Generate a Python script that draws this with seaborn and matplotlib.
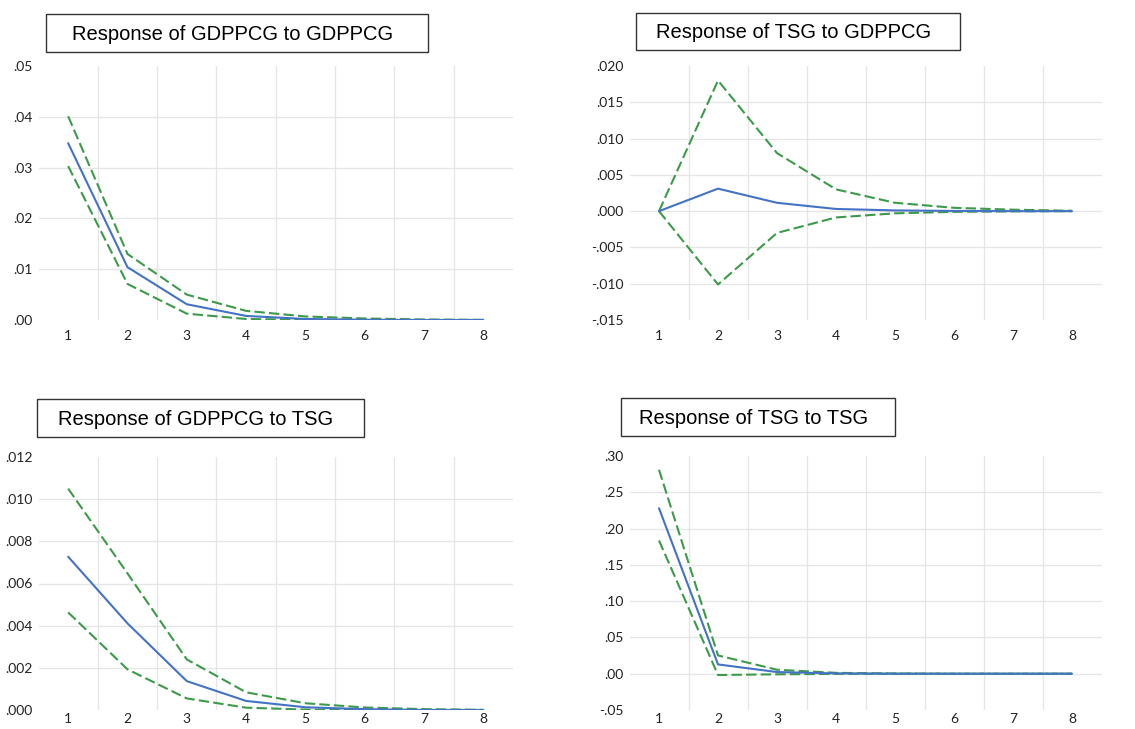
import matplotlib
matplotlib.use("Agg")
import matplotlib.pyplot as plt
from matplotlib.patches import Rectangle
import pandas as pd
import seaborn as sns

# periods
periods = [1, 2, 3, 4, 5, 6, 7, 8]

# Response of GDPPCG to GDPPCG
gg_resp = [0.0348, 0.0104, 0.0031, 0.0008, 0.0002, 0.00005, 0.0, 0.0]
gg_upper = [0.0401, 0.0130, 0.0050, 0.0018, 0.0007, 0.0003, 0.0001, 0.00003]
gg_lower = [0.0303, 0.0071, 0.00125, 0.0002, 0.00005, 0.0, 0.0, 0.0]

# Response of TSG to GDPPCG
tg_resp = [0.0, 0.0031, 0.00115, 0.0003, 0.0001, 0.00003, 0.0, 0.0]
tg_upper = [0.0, 0.0180, 0.0080, 0.0030, 0.00115, 0.00046, 0.0002, 0.00005]
tg_lower = [0.0, -0.0101, -0.0030, -0.00087, -0.0003, -0.0001, -0.00003, 0.0]

# Response of GDPPCG to TSG
gt_resp = [0.00727, 0.00411, 0.00137, 0.00043, 0.00013, 0.00004, 0.0, 0.0]
gt_upper = [0.0105, 0.00648, 0.0024, 0.00084, 0.00032, 0.00012, 0.00004, 0.00001]
gt_lower = [0.00463, 0.00193, 0.00055, 0.00011, 0.00002, 0.0, 0.0, 0.0]

# Response of TSG to TSG
tt_resp = [0.228, 0.0128, 0.0023, 0.0004, 0.0, 0.0, 0.0, 0.0]
tt_upper = [0.281, 0.0252, 0.0055, 0.0012, 0.0003, 0.0, 0.0, 0.0]
tt_lower = [0.1836, -0.0018, -0.0008, -0.0002, 0.0, 0.0, 0.0, 0.0]

titles = ["Response of GDPPCG to GDPPCG", "Response of TSG to GDPPCG",
          "Response of GDPPCG to TSG", "Response of TSG to TSG"]
yticks_list = [[0.0, 0.01, 0.02, 0.03, 0.04, 0.05],
               [-0.015, -0.010, -0.005, 0.0, 0.005, 0.010, 0.015, 0.020],
               [0.0, 0.002, 0.004, 0.006, 0.008, 0.010, 0.012],
               [-0.05, 0.0, 0.05, 0.10, 0.15, 0.20, 0.25, 0.30]]
ydigits = [2, 3, 3, 2]

series = [(gg_resp, gg_upper, gg_lower), (tg_resp, tg_upper, tg_lower),
          (gt_resp, gt_upper, gt_lower), (tt_resp, tt_upper, tt_lower)]

sns.set_style("white")
plt.rcParams['font.family'] = ['Lato', 'DejaVu Sans']

BLUE = "#4472c4"
GREEN = "#3d9a4a"
GRID = "#e6e6e6"

fig = plt.figure(figsize=(11.35, 7.29), dpi=100)

# axes rectangles in pixels: left, right, top, bottom
boxes_px = [(38.5, 513, 66, 320), (629.5, 1101.5, 66, 320),
            (38.5, 513, 457, 710), (629.5, 1101.5, 456, 710)]
# title boxes in pixels: left, right, top, bottom
tbox_px = [(46, 428, 14, 52), (636, 960, 13, 50),
           (37, 364, 399, 437), (621, 895, 398, 436)]
xpads = [7, 7, 2.5, 2.5]

W, H = 1135, 729

for i in range(4):
    l, r, t, b = boxes_px[i]
    ax = fig.add_axes([l / W, 1 - b / H, (r - l) / W, (b - t) / H])
    resp, up, lo = series[i]
    df = pd.DataFrame({"period": periods, "resp": resp, "upper": up, "lower": lo})
    sns.lineplot(data=df, x="period", y="upper", ax=ax, color=GREEN, lw=1.5,
                 linestyle=(0, (5, 2)))
    sns.lineplot(data=df, x="period", y="lower", ax=ax, color=GREEN, lw=1.5,
                 linestyle=(0, (5, 2)))
    sns.lineplot(data=df, x="period", y="resp", ax=ax, color=BLUE, lw=1.5)

    yt = yticks_list[i]
    ax.set_xlim(0.5, 8.5)
    ax.set_ylim(yt[0], yt[-1])
    ax.set_xticks(periods)
    ax.set_yticks(yt)
    d = ydigits[i]
    ax.set_yticklabels([(f"{v:.{d}f}").replace("0.", ".", 1) for v in yt])
    ax.tick_params(axis="both", length=0, labelsize=10, colors="#222222")
    ax.tick_params(axis="x", pad=xpads[i])
    ax.tick_params(axis="y", pad=4)
    ax.set_xlabel("")
    ax.set_ylabel("")
    for s in ax.spines.values():
        s.set_visible(False)
    # grid lines
    for v in yt[1:-1]:
        ax.axhline(v, color=GRID, lw=1, zorder=0)
    for xv in [1.5, 2.5, 3.5, 4.5, 5.5, 6.5, 7.5]:
        ax.axvline(xv, color=GRID, lw=1, zorder=0)

    # title box
    tl, tr, tt, tb = tbox_px[i]
    fig.patches.append(Rectangle((tl / W, 1 - tb / H), (tr - tl) / W, (tb - tt) / H,
                                 transform=fig.transFigure, fill=False,
                                 edgecolor="#333333", lw=1.0))
    fig.text((tl + tr) / 2 / W - 0.004, 1 - (tt + tb) / 2 / H - 0.002, titles[i],
             ha="center", va="center", fontsize=14.5,
             family=["Liberation Sans", "DejaVu Sans"], color="black")

fig.savefig("out.png", dpi=100)
